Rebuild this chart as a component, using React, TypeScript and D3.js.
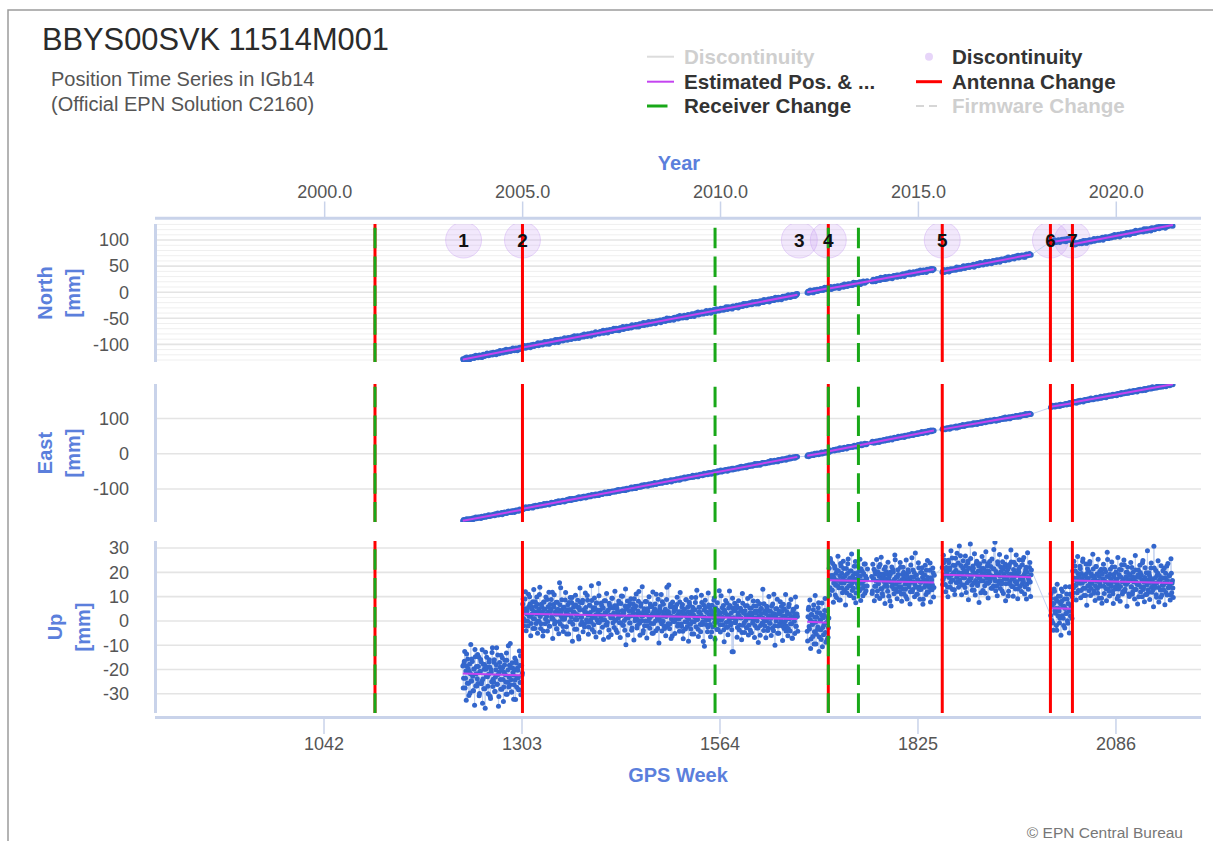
import React from "react";
import * as d3 from "d3";

// ---------------- DATA ----------------
// observation weeks are contiguous within each data segment
const dataSegStart = [1225, 1304, 1679, 1708, 1764, 1857, 2000, 2029];
const dataSegEnd = [1303, 1666, 1707, 1758, 1846, 1974, 2028, 2161];

// estimated position (model) line segments, values in mm
const modelStart = [1225, 1304, 1679, 1708, 1857, 2000, 2029];
const modelEnd = [1303, 1666, 1707, 1846, 1974, 2028, 2161];
const northModelStart = [-129, -106, 0, 7, 39.5, 96, 92];
const northModelEnd = [-107, -5, 7.5, 44, 72.5, 102, 129];
const eastModelStart = [-190, -156, -6, 7, 69, 133, 145];
const eastModelEnd = [-159, -9, 5, 66, 113, 143, 197];
const upModelStart = [-21.6, 3, -0.3, 16.7, 19, 5.2, 16.6];
const upModelEnd = [-22.4, 0.8, -0.8, 15.8, 18, 5, 15.6];

// Up residuals (mm): observations at the start of each week
const upResid = [
  3,-2,5,-6,1,8,-4,2,-9,4,0,-3,6,-1,-7,2,10,-5,3,-2,
  -4,7,-8,1,5,-3,-12,4,2,-6,9,-1,3,-5,0,6,-9,2,-3,11,
  -2,5,-7,-1,4,-4,8,-13,1,3,-6,2,7,-2,-5,4,0,-8,6,-3,
  12,-1,-4,3,-7,5,1,-10,2,-2,6,-5,3,-1,-6,4,8,-3,0,
  4,-2,1,6,-3,0,2,-5,3,7,-1,-4,2,5,-2,1,-6,3,0,4,
  -3,2,8,-1,-4,3,1,-7,5,2,-2,0,6,-3,1,-5,4,2,-1,9,
  -2,3,-4,1,5,-6,2,0,-3,4,11,-1,2,-5,3,-2,6,1,-8,2,
  0,5,-3,2,-1,7,-4,3,1,-2,4,-6,0,3,-10,2,5,-1,-3,6,
  2,-4,1,3,-2,8,0,-5,4,1,-3,6,-1,2,-7,3,0,5,-2,1,
  13,-3,2,-1,4,-5,3,0,-2,6,1,-4,2,-9,5,3,-1,0,7,-3,
  1,4,-2,-6,3,2,-1,5,0,-3,8,2,-4,1,-2,4,-12,3,6,-1,
  2,-3,5,0,-5,3,1,7,-2,4,-1,-4,2,10,-3,1,5,-2,0,-6,
  3,1,-2,6,-4,2,0,-1,5,-3,4,1,-7,2,3,-2,9,0,-5,1,
  -1,4,2,-3,6,-2,1,-5,3,0,12,-4,2,1,-3,5,-1,-8,4,2,
  -2,3,0,5,-4,1,-1,6,2,-3,4,-6,1,3,-2,7,0,-4,2,-1,
  5,-3,2,-7,4,1,-2,3,8,-1,0,-5,2,4,-3,1,6,-2,-10,3,
  0,4,-1,2,-4,5,1,-3,3,-6,2,0,7,-2,4,-1,-5,3,1,11,
  -3,2,-1,4,0,-5,3,2,-2,6,-4,1,-1,5,-3,2,-14,4,0,-2,
  3,-1,5,-4,2,1,-3,4,0,-6,6,2,-2,3,-1,-4,5,1,-3,2,
  -5,4,1,-2,7,0,-3,2,5,-1,-4,3,1,-7,4,2,-2,0,6,-3,
  2,-1,4,-5,1,3,-2,0,5,-4,2,10,-3,1,-1,4,-6,2,3,-2,
  0,5,-3,1,-2,4,-1,-5,3,2,-4,6,0,-2,1,-8,3,4,-1,2,
  -3,5,1,
  -4,2,6,-3,1,-7,3,-1,5,-9,2,0,-5,4,-2,8,-6,1,-3,3,-10,2,-1,5,-4,0,-7,2,-2,
  5,-3,8,1,-4,2,-1,6,-6,3,0,-2,4,-8,2,7,-1,-3,1,5,
  -4,2,0,-5,3,9,-2,1,-6,4,-1,2,-3,6,0,-9,3,1,-2,4,
  -4,2,5,-1,-3,0,7,-5,2,1,-2,
  2,-4,1,5,-2,3,0,-6,4,-1,2,7,-3,1,-5,3,0,-2,6,-1,
  3,-4,1,2,-8,4,0,-2,5,-3,1,9,-1,-4,2,3,-2,0,6,-5,
  1,-3,4,2,-1,-6,3,0,5,-2,1,-4,2,10,-3,0,4,-1,-2,3,
  -5,1,6,-2,0,-3,4,2,-7,1,3,-1,5,-4,2,0,-2,8,-3,1,
  -1,4,-2,
  3,-2,5,0,-4,2,1,-5,6,-1,3,-3,0,7,-2,1,-6,4,2,-1,
  -3,5,1,-2,8,0,-4,3,-1,2,-5,4,1,-3,6,-2,0,13,-1,-4,
  2,3,-6,1,-2,5,0,-3,4,-1,2,-7,3,1,-2,6,-4,0,2,-1,
  5,-3,1,-2,4,0,-5,3,11,-1,-2,2,-4,6,1,-3,0,4,-2,-6,
  3,1,-1,5,-3,2,0,-8,4,-2,1,6,-1,-4,3,0,-2,5,-3,1,
  -5,2,4,-1,0,-3,7,-2,1,-4,3,-9,2,0,-1,4,-2,1,
  -3,4,1,-6,2,7,-2,0,-9,3,5,-1,-4,2,8,-3,1,-7,4,0,-2,6,-5,2,-1,9,-3,1,-4,
  4,-3,1,6,-2,0,-5,3,2,-1,5,-4,1,8,-3,2,0,-6,3,1,
  -2,4,7,-1,-3,2,0,5,-4,1,-2,6,3,-5,0,2,-1,4,-7,3,
  1,-2,5,0,-3,2,9,-1,-4,3,1,-2,6,-5,2,0,-3,4,1,-1,
  -6,3,2,-2,5,0,-4,1,7,-3,2,-1,4,0,-5,3,1,-2,6,-4,
  2,1,-3,5,0,-1,3,-6,2,4,-2,1,8,-3,0,2,-5,4,-1,1,
  -4,3,0,6,-2,1,-3,15,-1,2,-5,0,4,-2,3,1,-6,2,-1,5,
  -3,0,2,-4,7,1,-2,3,-1,-5,4,0,-2,
];

// Up residuals (mm): observations in the middle of each week
const upResidMid = [
  -6,4,9,-2,-11,3,6,-4,1,-8,12,-3,5,-7,2,-13,7,0,-5,8,
  3,-9,1,6,-4,10,-2,-6,4,-14,2,7,-1,-8,5,3,-10,1,9,-5,
  -3,6,-7,2,11,-4,0,-9,5,-2,8,-6,3,-11,1,6,-3,9,-8,2,
  -5,4,13,-2,-7,3,0,-4,7,-10,5,-1,2,-6,10,-3,-8,4,1,
  6,-5,2,9,-7,1,-3,8,-1,4,-9,3,0,-6,10,-2,5,-4,7,-8,
  1,-3,11,-6,4,0,-9,5,2,-4,7,-1,-7,3,9,-5,1,6,-2,-10,
  4,8,-3,0,-6,5,2,-8,13,-4,1,6,-2,-7,3,-1,9,-5,0,4,
  -8,2,7,-3,5,-11,1,4,-6,8,0,-2,6,-9,3,11,-4,-1,5,-7,
  2,-5,9,1,-3,6,-8,0,4,-2,12,-6,3,-4,7,-1,-9,5,2,-3,
  8,-7,0,5,-2,3,-10,6,1,-4,9,-3,2,-6,4,0,-8,7,-1,3,
  -5,10,-2,4,-7,1,6,-3,-9,5,0,8,-4,2,-6,11,-1,3,-8,4,
  0,-3,7,-6,2,5,-10,3,-1,9,-5,1,6,-2,-8,4,0,12,-7,2,
  -4,6,1,-9,3,-2,8,-5,4,0,-7,10,-3,1,5,-6,2,-1,7,-11,
  3,-2,9,-6,0,5,-4,2,-8,7,1,-3,13,-5,4,-9,0,6,-2,3,
  -7,4,-1,8,-3,2,-6,10,0,-4,5,-9,3,1,-5,7,-2,4,-10,6,
  1,-5,8,-2,3,-7,0,6,-4,11,-1,-8,4,2,-6,9,-3,0,5,-12,
  7,-3,2,-6,10,-1,4,-8,1,5,-4,0,8,-9,3,-2,6,-5,2,-1,
  -6,9,0,-3,5,-10,2,7,-4,1,-7,4,11,-2,0,-5,8,-14,3,6,
  -2,4,-8,1,7,-5,0,3,-9,10,-3,2,-6,5,1,-4,8,-7,0,4,
  9,-6,2,-1,5,-8,3,0,-4,7,-10,1,6,-3,4,-2,12,-5,-1,3,
  -8,5,0,-4,9,-2,3,-7,1,6,-5,2,-11,4,0,8,-3,-6,2,7,
  -1,3,-9,6,-4,1,10,-3,0,-7,5,2,-5,8,-2,-8,4,1,-6,9,
  -3,2,-5,
  -8,5,-2,9,-11,3,0,-6,7,-4,11,-9,2,-3,6,-12,4,1,-7,8,-2,-5,3,10,-8,0,5,-6,2,
  -6,9,2,-4,7,-9,1,5,-2,-7,4,10,-3,0,-8,6,3,-5,8,-1,
  2,-10,5,-3,7,0,-6,4,-2,11,-4,1,-7,3,8,-5,-1,6,-3,2,
  9,-8,0,4,-6,3,-2,7,-4,1,5,
  -5,7,1,-8,4,-2,9,-4,0,6,-7,3,10,-3,-6,2,5,-9,1,4,
  -2,8,-6,0,3,-10,6,-1,4,-5,11,-3,2,-7,5,0,-4,8,-2,-8,
  3,6,-5,1,-3,9,-7,2,4,-1,-9,7,0,-4,5,2,-6,12,-2,-5,
  1,8,-3,-7,4,0,6,-9,3,-2,7,-5,1,9,-4,-1,5,-8,2,-3,
  6,-6,3,
  -4,8,-1,6,-7,3,0,-9,5,2,-5,10,-2,-6,4,1,-8,7,-3,9,
  0,-5,12,-3,4,-8,1,6,-4,-1,8,-7,2,5,-10,3,-2,7,0,-6,
  4,-3,9,-8,1,6,-4,2,-11,5,0,-2,8,-6,3,1,-7,10,-3,4,
  -9,2,6,-1,-5,7,0,-4,3,14,-6,1,-8,5,-2,9,-5,2,-3,6,
  -7,0,4,-10,8,-1,3,-6,5,-3,11,-4,1,-8,6,2,-5,9,-2,-9,
  3,7,-4,0,-6,5,-1,8,-7,2,4,-3,10,-5,-2,6,-8,3,
  6,-5,2,-9,8,-1,4,-7,10,-3,0,-6,5,-11,3,7,-4,1,-8,9,-2,4,-6,2,-10,6,0,-3,5,
  -5,8,-2,4,-8,1,10,-4,0,6,-7,3,-1,9,-6,2,-3,7,-10,5,
  1,-4,8,-6,3,-1,11,-5,2,-8,6,0,-3,9,-7,4,-2,5,-9,1,
  7,-5,0,4,-8,12,-3,2,-6,5,-1,8,-4,-9,3,6,-2,1,-7,10,
  -3,5,-8,2,7,-5,0,9,-4,-1,4,-10,6,1,-6,3,8,-2,-5,4,
  0,-7,11,-3,2,-9,5,-1,7,-4,3,-6,9,-2,-8,6,1,-5,13,-3,
  4,-7,2,8,-4,0,-10,6,-2,5,-6,3,9,-8,1,-3,7,-5,2,-1,
  6,-9,4,0,-5,8,-2,3,-7,10,-4,1,-6,
];

const northResid = [
  1,-2,0,2,-1,3,-2,1,0,-3,2,1,-1,0,2,-2,1,3,-1,0,
  -2,1,2,-1,0,-3,1,2,-2,0,1,-1,3,0,-2,1,-1,2,0,-2,
  2,0,-1,1,-3,2,0,1,-2,3,-1,0,1,-2,2,-1,0,3,-2,1,
  0,-1,2,-2,1,0,3,-1,-2,1,2,0,-3,1,-1,2,0,-2,1,2,
  -1,3,0,-2,1,-1,2,0,1,-3,2,-1,0,2,-2,1,1,-1,0,3,
  -2,0,1,2,-1,-2,1,0,3,-1,0,-2,2,1,-3,0,2,-1,1,0,
  1,-2,3,0,-1,2,-3,1,0,2,-1,1,-2,0,3,-1,0,1,-2,2,
  0,1,-1,-2,2,0,1,3,-2,0,-1,2,1,-3,0,1,-1,2,0,-2,
  3,-1,0,1,-2,2,0,-1,1,-3,2,0,1,-1,-2,3,0,1,-1,0,
  -2,2,1,0,-1,3,-2,0,1,-1,2,-3,0,1,2,-1,0,-2,1,3,
  0,-1,2,1,-2,0,-3,2,1,0,-1,3,-2,0,1,-1,2,0,-2,1,
  1,0,-2,3,-1,1,0,-1,2,-2,0,1,-3,2,0,1,-1,0,3,-2,
  -1,2,0,-2,1,3,-1,0,-2,1,2,-1,0,1,-3,2,0,-1,1,0,
  2,-3,1,0,-1,2,1,-2,0,3,-1,0,2,-2,1,0,-1,1,-3,2,
  0,1,-1,2,-2,0,3,-1,1,0,-2,1,2,-1,0,-3,1,2,0,-1,
  -2,0,2,-1,1,-3,0,2,1,-1,3,-2,0,1,-1,2,0,-2,1,0,
  1,3,-2,0,-1,1,2,-3,0,1,-1,2,0,-2,3,0,-1,1,-2,0,
  2,-1,0,1,-2,0,1,3,-1,-2,2,0,-1,1,0,-3,2,1,-1,0,
  -1,2,1,-3,0,2,-1,0,1,-2,3,0,-1,2,-2,1,0,-1,2,1,
  0,-2,3,1,-1,0,2,-2,1,0,-3,1,2,-1,0,1,-2,3,0,-1,
  1,0,-1,2,-3,1,0,2,-1,1,-2,0,3,-1,0,-2,2,1,-1,0,
  -3,1,2,0,-1,2,-2,0,1,3,-1,0,-2,1,2,-1,0,1,-2,2,
  0,2,-1,1,-2,0,3,-1,0,1,-3,2,1,0,-1,2,-2,0,1,-1,
  2,-1,0,-2,1,3,-1,0,2,-2,1,0,-1,3,-2,1,0,-1,2,0,
  -1,0,2,1,-3,0,1,-1,2,0,-2,3,1,-1,0,-2,2,0,1,-1,
  1,-2,0,3,-1,0,2,-1,-2,1,0,2,-3,1,0,-1,2,1,-2,0,
  0,1,-1,-2,2,1,0,-3,1,2,-1,0,1,-2,3,0,-1,2,0,-2,
  3,0,-2,1,-1,2,0,-1,1,-3,0,2,1,-1,0,2,-2,1,0,-1,
  -2,1,0,2,-1,-3,1,0,2,1,-1,0,3,-2,1,0,-1,2,-2,0,
  1,-1,2,0,-2,1,3,-1,0,-2,2,1,0,-1,-3,2,0,1,-1,2,
  0,2,-2,1,0,-1,1,3,-2,0,1,-1,2,0,-3,1,2,-1,0,1,
  -1,0,1,-2,3,0,-1,2,1,-2,0,1,-1,3,0,-2,1,0,2,-1,
  2,-2,0,1,-1,0,2,-3,1,0,-1,2,1,-2,0,3,-1,0,1,-2,
  0,1,3,-1,-2,1,0,2,-1,0,-3,1,2,0,-1,1,-2,2,0,-1,
  1,-3,0,2,1,-1,0,1,-2,2,0,-1,3,-2,0,1,-1,0,2,1,
  -2,1,2,0,-1,3,-2,0,1,-1,2,0,-2,1,-3,0,2,1,-1,0,
  2,0,-1,1,-2,0,1,-1,3,0,-2,1,0,2,-1,-3,1,0,2,-1,
  -1,2,0,-3,1,2,-1,0,1,-2,0,3,-1,1,0,-2,2,-1,0,1,
  0,-1,2,1,-2,0,3,-1,0,2,-3,1,0,-1,2,1,-2,0,1,-1,
  3,-2,0,1,-1,2,0,-2,1,0,-1,2,-3,1,0,2,-1,1,0,-2,
  -1,1,0,-2,2,0,-1,3,-2,1,0,-1,2,0,-3,1,2,-1,0,1,
  1,0,-2,2,-1,1,0,-3,2,0,1,-1,0,2,-2,3,-1,0,1,-1,
  0,2,-1,0,1,-2,3,0,-1,2,-2,1,0,-1,1,-3,2,0,1,0,
  -2,1,0,2,-1,0,-2,3,1,-1,0,2,-1,1,-3,0,2,-1,0,1,
  2,-1,0,1,-2,
];

const eastResid = [
  -1,2,0,-2,1,3,-1,0,2,-3,1,0,-1,2,-2,1,0,3,-1,0,
  2,-1,1,0,-3,2,0,-1,1,2,-2,0,1,-1,3,0,-2,1,0,-1,
  0,1,-2,2,-1,0,3,-2,1,0,-1,2,-3,0,1,2,-1,0,-2,1,
  3,0,-1,1,-2,2,0,1,-3,0,2,-1,1,0,-2,3,-1,0,1,-2,
  -2,1,0,3,-1,0,-2,2,1,-1,0,1,-3,2,0,-1,2,1,-2,0,
  1,-1,2,0,-2,1,-1,3,0,-2,1,2,-1,0,-3,1,0,2,-1,1,
  0,-2,1,2,-1,0,3,-1,-2,1,0,-1,2,1,-3,0,1,-1,2,0,
  -1,3,0,-2,2,1,-1,0,1,-2,0,2,-1,3,0,-2,1,0,-1,2,
  2,0,-3,1,0,-1,2,1,-2,0,3,-1,0,1,-2,2,0,-1,1,-3,
  0,1,2,-1,-2,0,1,3,-1,0,-2,1,2,-3,0,1,-1,2,0,-1,
  1,-2,0,2,-1,3,0,-2,1,-1,0,2,-1,1,-3,0,2,-2,1,0,
  -1,0,3,-2,1,0,-1,2,-3,1,2,0,-1,1,0,-2,3,-1,0,2,
  2,-1,0,1,-3,2,1,-1,0,2,-2,0,1,3,-1,-2,0,1,-1,0,
  0,2,-1,-2,1,0,3,-1,2,-2,0,1,-1,0,2,-3,1,0,-1,1,
  -2,1,2,0,-1,1,-3,2,0,1,-1,0,3,-2,1,0,-1,2,0,-1,
  1,0,-1,3,-2,0,1,-1,2,0,-3,1,0,2,-1,1,-2,0,3,-1,
  0,-1,2,-2,1,2,-1,0,-3,1,0,2,-1,1,0,-2,3,-1,0,1,
  3,-2,0,1,-1,0,2,-1,1,-3,2,0,1,-1,0,2,-2,1,0,-1,
  -1,1,0,-2,2,1,-1,3,0,-2,1,0,-1,2,-3,1,0,2,-1,0,
  2,0,-2,1,-1,3,0,-1,2,-2,0,1,-3,0,1,2,-1,0,1,-2,
  0,-1,1,2,-2,0,3,-1,0,1,-2,2,0,-1,1,-3,2,0,-1,1,
  -2,2,0,-1,1,0,-3,2,1,-1,0,3,-2,0,1,-1,2,0,-2,1,
  1,0,-1,2,-3,1,0,-1,2,0,-2,1,3,-1,0,2,-1,-2,1,0,
  -1,3,-2,0,1,-1,2,0,-2,1,0,-3,2,1,-1,0,1,2,-2,0,
  2,-1,0,1,-2,3,0,-1,1,-2,0,2,-1,0,-3,1,2,0,-1,1,
  0,1,-2,0,2,-1,1,-3,0,2,1,-1,0,3,-2,0,1,-1,2,-1,
  -2,0,1,3,-1,0,-2,1,2,0,-1,1,-3,2,0,1,-1,0,2,-2,
  1,-1,2,0,-2,1,0,2,-1,-3,1,0,2,-1,1,0,-2,3,0,-1,
  0,2,-1,1,0,-3,2,-1,0,1,2,-2,0,1,-1,3,0,-2,1,0,
  -1,0,2,-2,1,1,-1,0,3,-2,0,1,-1,2,0,-3,1,2,-1,0,
  2,-2,0,1,-1,0,3,-1,1,-2,0,2,0,-1,1,-3,2,0,1,-1,
  0,1,-1,2,-3,1,0,-2,2,0,1,-1,3,0,-2,1,-1,0,2,1,
  -1,2,0,-1,1,-2,3,0,-1,2,0,-3,1,1,-1,0,2,-2,0,1,
  1,0,-2,3,-1,0,1,-1,2,-2,0,1,-1,0,2,1,-3,0,1,-1,
  -2,1,1,0,-1,2,-1,0,3,-2,1,0,-1,2,-3,0,1,-1,2,0,
  0,-1,2,1,-2,0,1,-3,2,0,-1,1,0,2,-1,3,-2,0,1,-1,
  2,0,-1,-2,1,3,0,-1,1,-2,2,0,-1,0,1,-3,2,1,-1,0,
  -1,1,0,2,-2,0,1,-1,3,0,-2,1,-1,2,0,-1,1,-3,0,2,
  1,-2,2,0,-1,1,-3,0,2,1,-1,0,2,-2,0,1,3,-1,0,-2,
  0,1,-1,2,0,-2,1,0,-1,3,-2,1,0,-1,2,0,-3,1,1,-1,
  2,-1,0,1,-2,2,0,-1,1,0,-3,2,-1,0,1,-2,3,0,-1,1,
  -1,0,2,-1,1,-2,0,3,-1,0,1,-2,2,0,-1,1,0,-3,2,0,
  1,2,-1,0,-2,1,0,2,-3,1,-1,0,2,-1,0,1,-2,3,0,-1,
  0,-1,1,-2,2,0,3,-1,0,1,-2,0,1,-1,2,-3,0,1,2,-1,
  -2,1,0,2,-1,
];

// events (GPS week)
const antennaChanges = [1303.6, 1857, 1999.6, 2028.6];
const antennaReceiverChanges = [1109.2, 1706.8];
const receiverChanges = [1557.5, 1746.5];
const discontinuityWeeks = [1226, 1303.6, 1668.6, 1706.8, 1857, 1999.6, 2028.6];
const discontinuityLabels = ["1", "2", "3", "4", "5", "6", "7"];

// ticks
const weekTicks = [1042, 1303, 1564, 1825, 2086];
const yearTicks = [2000, 2005, 2010, 2015, 2020];
const northTicks = [-100, -50, 0, 50, 100];
const northMinorTicks = d3.range(-130, 131, 10);
const eastTicks = [-100, 0, 100];
const upTicks = [-30, -20, -10, 0, 10, 20, 30];

// ---------------- LAYOUT ----------------
const W = 1213;
const H = 841;
const X0 = 155;
const X1 = 1201;
const FONT = "'Liberation Sans', Arial, Helvetica, sans-serif";
const AXIS_BLUE = "#5b7fdc";
const AXIS_LINE = "#c9d3ea";
const DOT = "#3366cc";
const MODEL = "#c444f0";
const RED = "#ff0000";
const GREEN = "#18a818";

const xScale = d3.scaleLinear().domain([819.2, 2198.1]).range([X0, X1]);
const GPS0 = Date.UTC(1980, 0, 6);
const yearToWeek = (y: number) => (Date.UTC(y, 0, 1) - GPS0) / (7 * 86400000);

function buildWeeks() {
  const w: number[] = [];
  dataSegStart.forEach((s, k) => {
    for (let x = s; x <= dataSegEnd[k]; x++) w.push(x);
  });
  return w;
}
const weeks = buildWeeks();

function modelAt(w: number, ms: number[], me: number[]) {
  for (let k = 0; k < modelStart.length; k++) {
    if (w >= modelStart[k] && w < modelEnd[k] + 1) {
      const t = (w - modelStart[k]) / (modelEnd[k] - modelStart[k]);
      return ms[k] + t * (me[k] - ms[k]);
    }
  }
  return NaN;
}

type Obs = { w: number; r: number };

function observations(resids: number[][], offsets: number[]): Obs[] {
  const out: Obs[] = [];
  weeks.forEach((w, i) => {
    resids.forEach((arr, j) => {
      if (i < arr.length) out.push({ w: w + offsets[j], r: arr[i] });
    });
  });
  return out;
}

type Panel = {
  key: string;
  title: string[];
  titleX: number[];
  y0: number;
  y1: number;
  domain: number[];
  ticks: number[];
  minor: number[];
  obs: Obs[];
  ms: number[];
  me: number[];
  dashOffset: number;
  r: number;
};

const panels: Panel[] = [
  { key: "north", title: ["North", "[mm]"], titleX: [45, 73], y0: 224, y1: 362, domain: [-133.8, 130.8], ticks: northTicks, minor: northMinorTicks, obs: observations([northResid], [0]), ms: northModelStart, me: northModelEnd, dashOffset: 25, r: 2.7 },
  { key: "east", title: ["East", "[mm]"], titleX: [45, 73], y0: 384, y1: 522, domain: [-193.8, 197.7], ticks: eastTicks, minor: [], obs: observations([eastResid], [0]), ms: eastModelStart, me: eastModelEnd, dashOffset: 26, r: 2.7 },
  { key: "up", title: ["Up", "[mm]"], titleX: [55, 83], y0: 541, y1: 713, domain: [-37.9, 32.9], ticks: upTicks, minor: [], obs: observations([upResid, upResidMid], [0, 0.5]), ms: upModelStart, me: upModelEnd, dashOffset: 20.5, r: 2.5 },
];

function PanelView({ p }: { p: Panel }) {
  const y = d3.scaleLinear().domain(p.domain).range([p.y1, p.y0]);
  const pts: [number, number][] = p.obs
    .map((o) => [xScale(o.w), y(modelAt(o.w, p.ms, p.me) + o.r)] as [number, number])
    .filter((q) => isFinite(q[1]));
  const line = d3.line();
  const clipId = "clip-" + p.key;
  const cy = (p.y0 + p.y1) / 2;
  const vline = (w: number) => `M${xScale(w)},${p.y0}L${xScale(w)},${p.y1}`;
  return (
    <g>
      <defs>
        <clipPath id={clipId}>
          <rect x={X0 + 1} y={p.y0} width={X1 - X0} height={p.y1 - p.y0} />
        </clipPath>
      </defs>
      {p.minor.filter((t) => !p.ticks.includes(t)).map((t) => (
        <line key={"m" + t} x1={X0 + 2} x2={X1} y1={y(t)} y2={y(t)} stroke="#efefef" strokeWidth={1} />
      ))}
      {p.ticks.map((t) => (
        <line key={"g" + t} x1={X0 + 2} x2={X1} y1={y(t)} y2={y(t)} stroke="#e4e4e4" strokeWidth={1.6} />
      ))}
      <line x1={X0 + 0.5} x2={X0 + 0.5} y1={p.y0} y2={p.y1} stroke={AXIS_LINE} strokeWidth={3} />
      {p.ticks.map((t) => (
        <text key={"t" + t} x={129} y={y(t)} dy="0.35em" textAnchor="end" fontSize={18} fill="#555" fontFamily={FONT}>
          {t}
        </text>
      ))}
      {p.title.map((s, i) => (
        <text key={s} transform={`translate(${p.titleX[i]},${cy}) rotate(-90)`} dy="0.35em" textAnchor="middle" fontSize={20} fontWeight="bold" fill={AXIS_BLUE} fontFamily={FONT}>
          {s}
        </text>
      ))}
      <g clipPath={`url(#${clipId})`}>
        {p.key === "north" &&
          discontinuityWeeks.map((w, i) => (
            <circle key={"dc" + i} cx={xScale(w)} cy={y(100)} r={18} fill="rgba(196,150,240,0.22)" stroke="rgba(196,150,240,0.35)" strokeWidth={1} />
          ))}
        <path d={line(pts) || ""} fill="none" stroke="#c3d2f0" strokeWidth={1} />
        {pts.map((q, i) => (
          <circle key={i} cx={q[0]} cy={q[1]} r={p.r} fill={DOT} />
        ))}
        {modelStart.map((s, k) => (
          <line key={"md" + k} x1={xScale(s)} x2={xScale(modelEnd[k])} y1={y(p.ms[k])} y2={y(p.me[k])} stroke={MODEL} strokeWidth={2} />
        ))}
        {antennaChanges.map((w) => (
          <path key={"a" + w} d={vline(w)} stroke={RED} strokeWidth={3} />
        ))}
        {antennaReceiverChanges.map((w) => (
          <g key={"ar" + w}>
            <path d={vline(w)} stroke={RED} strokeWidth={3} />
            <path d={vline(w)} stroke={GREEN} strokeWidth={3} strokeDasharray="20.5,8.3" strokeDashoffset={p.dashOffset} />
          </g>
        ))}
        {receiverChanges.map((w) => (
          <path key={"r" + w} d={vline(w)} stroke={GREEN} strokeWidth={3} strokeDasharray="20.5,8.3" strokeDashoffset={p.dashOffset} />
        ))}
        {p.key === "north" &&
          discontinuityWeeks.map((w, i) => (
            <text key={"dl" + i} x={xScale(w)} y={y(100)} dy="0.36em" textAnchor="middle" fontSize={19} fontWeight="bold" fill="#111" fontFamily={FONT}>
              {discontinuityLabels[i]}
            </text>
          ))}
      </g>
    </g>
  );
}

export default function App() {
  const legendRows = [56.7, 81.7, 106];
  const c1 = 647;
  const c2 = 916;
  return (
    <svg width={W} height={H} style={{ position: "absolute", left: 0, top: 0, background: "#fff" }} fontFamily={FONT}>
      <rect x={0} y={0} width={W} height={H} fill="#fff" />
      <path d={`M8,${H}L8,10L${W},10`} fill="none" stroke="#9c9c9c" strokeWidth={1.5} />
      <text x={42} y={50} fontSize={30.8} fill="#2b2b2b">BBYS00SVK 11514M001</text>
      <text x={51} y={86} fontSize={20} fill="#555">Position Time Series in IGb14</text>
      <text x={51} y={111} fontSize={20} fill="#555">(Official EPN Solution C2160)</text>

      <g fontSize={20.6} fontWeight="bold">
        <line x1={c1} x2={c1 + 27} y1={legendRows[0]} y2={legendRows[0]} stroke="#dcdcdc" strokeWidth={2} />
        <text x={684} y={legendRows[0]} dy="0.35em" fill="#cfcfcf">Discontinuity</text>
        <line x1={c1} x2={c1 + 27} y1={legendRows[1]} y2={legendRows[1]} stroke={MODEL} strokeWidth={2} />
        <text x={684} y={legendRows[1]} dy="0.35em" fill="#333">Estimated Pos. &amp; ...</text>
        <line x1={c1} x2={c1 + 27} y1={legendRows[2]} y2={legendRows[2]} stroke={GREEN} strokeWidth={3} strokeDasharray="20.5,8.3" />
        <text x={684} y={legendRows[2]} dy="0.35em" fill="#333">Receiver Change</text>

        <circle cx={929} cy={legendRows[0]} r={4} fill="rgba(196,150,240,0.4)" />
        <text x={952} y={legendRows[0]} dy="0.35em" fill="#333">Discontinuity</text>
        <line x1={c2} x2={c2 + 26} y1={legendRows[1]} y2={legendRows[1]} stroke={RED} strokeWidth={3} />
        <text x={952} y={legendRows[1]} dy="0.35em" fill="#333">Antenna Change</text>
        <line x1={c2} x2={c2 + 26} y1={legendRows[2]} y2={legendRows[2]} stroke="#d6d6d6" strokeWidth={2} strokeDasharray="8,5" />
        <text x={952} y={legendRows[2]} dy="0.35em" fill="#cfcfcf">Firmware Change</text>
      </g>

      <text x={679} y={163} dy="0.35em" textAnchor="middle" fontSize={20} fontWeight="bold" fill={AXIS_BLUE}>Year</text>
      {yearTicks.map((yr) => {
        const x = xScale(yearToWeek(yr));
        return (
          <g key={"yt" + yr}>
            <line x1={x} x2={x} y1={201.5} y2={217} stroke={AXIS_LINE} strokeWidth={1.5} />
            <text x={x} y={191.5} dy="0.35em" textAnchor="middle" fontSize={18} fill="#555">{d3.format(".1f")(yr)}</text>
          </g>
        );
      })}
      <line x1={X0} x2={X1} y1={218.3} y2={218.3} stroke={AXIS_LINE} strokeWidth={3} />

      {panels.map((p) => (
        <PanelView key={p.key} p={p} />
      ))}

      <line x1={X0} x2={X1} y1={717.5} y2={717.5} stroke={AXIS_LINE} strokeWidth={3} />
      {weekTicks.map((w) => (
        <g key={"wt" + w}>
          <line x1={xScale(w)} x2={xScale(w)} y1={719} y2={734} stroke={AXIS_LINE} strokeWidth={1.5} />
          <text x={xScale(w)} y={744} dy="0.35em" textAnchor="middle" fontSize={18} fill="#555">{w}</text>
        </g>
      ))}
      <text x={678} y={775} dy="0.35em" textAnchor="middle" fontSize={20} fontWeight="bold" fill={AXIS_BLUE}>GPS Week</text>

      <text x={1183} y={833} dy="0.35em" textAnchor="end" fontSize={15.5} fill="#777">© EPN Central Bureau</text>
    </svg>
  );
}
